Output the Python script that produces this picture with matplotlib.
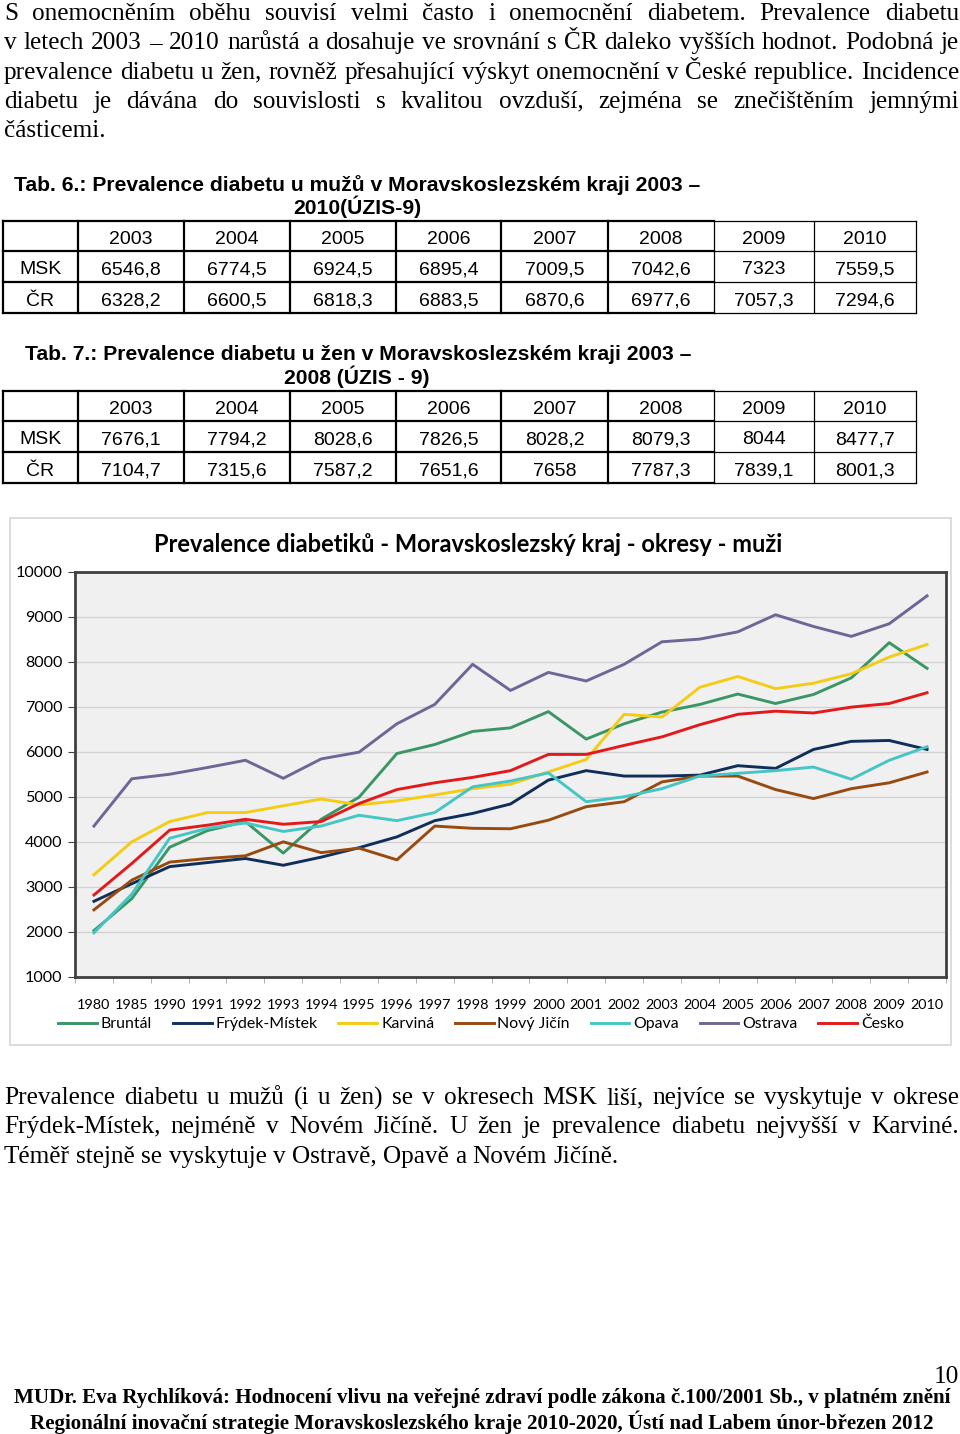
import numpy as np
import matplotlib
matplotlib.use("Agg")
from matplotlib import pyplot as plt
from matplotlib.patches import Rectangle

plt.rcParams['font.family'] = ['Lato', 'DejaVu Sans']

# chart data
years = ["1980", "1985", "1990", "1991", "1992", "1993", "1994", "1995", "1996", "1997", "1998",
         "1999", "2000", "2001", "2002", "2003", "2004", "2005", "2006", "2007", "2008", "2009", "2010"]
bruntal = [2030, 2740, 3880, 4250, 4450, 3750, 4500, 4990, 5960, 6160, 6450, 6530, 6890, 6280, 6620,
           6880, 7050, 7280, 7070, 7270, 7640, 8420, 7850]
frydek = [2680, 3070, 3450, 3540, 3630, 3480, 3660, 3870, 4110, 4470, 4630, 4840, 5370, 5580, 5460,
          5460, 5480, 5690, 5630, 6050, 6230, 6250, 6050]
karvina = [3270, 4000, 4450, 4650, 4650, 4800, 4950, 4820, 4910, 5040, 5180, 5280, 5550, 5830, 6830,
           6770, 7430, 7670, 7400, 7520, 7730, 8100, 8380]
novy_jicin = [2490, 3150, 3550, 3630, 3690, 4000, 3760, 3860, 3600, 4350, 4300, 4290, 4480, 4780, 4890,
              5330, 5460, 5460, 5160, 4960, 5180, 5310, 5550]
opava = [1980, 2840, 4080, 4300, 4420, 4230, 4350, 4590, 4470, 4650, 5220, 5350, 5530, 4890, 5000,
         5180, 5460, 5520, 5580, 5660, 5390, 5810, 6110]
ostrava = [4350, 5400, 5500, 5650, 5810, 5410, 5840, 5990, 6620, 7050, 7940, 7360, 7760, 7570, 7940,
           8440, 8500, 8660, 9040, 8780, 8560, 8840, 9460]
cesko = [2820, 3520, 4260, 4370, 4500, 4390, 4450, 4850, 5160, 5310, 5430, 5580, 5940, 5940, 6140,
         6330, 6600, 6830, 6900, 6860, 6990, 7070, 7310]
series_names = ["Bruntál", "Frýdek-Místek", "Karviná", "Nový Jičín", "Opava", "Ostrava", "Česko"]
series_colors = ["#3a9664", "#0f2f5a", "#f4cc16", "#984a10", "#46c5c5", "#6b6898", "#e31a1c"]

# tables
table_years = ["2003", "2004", "2005", "2006", "2007", "2008", "2009", "2010"]
men_msk = ["6546,8", "6774,5", "6924,5", "6895,4", "7009,5", "7042,6", "7323", "7559,5"]
men_cr = ["6328,2", "6600,5", "6818,3", "6883,5", "6870,6", "6977,6", "7057,3", "7294,6"]
women_msk = ["7676,1", "7794,2", "8028,6", "7826,5", "8028,2", "8079,3", "8044", "8477,7"]
women_cr = ["7104,7", "7315,6", "7587,2", "7651,6", "7658", "7787,3", "7839,1", "8001,3"]

para_top = ["S onemocněním oběhu souvisí velmi často i onemocnění diabetem. Prevalence diabetu",
            "v letech 2003 – 2010 narůstá a dosahuje ve srovnání s ČR daleko vyšších hodnot. Podobná je",
            "prevalence diabetu u žen, rovněž přesahující výskyt onemocnění v České republice. Incidence",
            "diabetu je dávána do souvislosti s kvalitou ovzduší, zejména se znečištěním jemnými",
            "částicemi."]
para_bottom = ["Prevalence diabetu u mužů (i u žen) se v okresech MSK liší, nejvíce se vyskytuje v okrese",
               "Frýdek-Místek, nejméně v Novém Jičíně. U žen je prevalence diabetu nejvyšší v Karviné.",
               "Téměř stejně se vyskytuje v Ostravě, Opavě a Novém Jičíně."]

fig = plt.figure(figsize=(9.6, 14.34), dpi=100)
page = fig.add_axes([0, 0, 1, 1])
page.set_xlim(0, 960)
page.set_ylim(1434, 0)
page.axis('off')
renderer = fig.canvas.get_renderer()


def text_width(t):
    return t.get_window_extent(renderer).width


def fit_size(s, width, **kw):
    t = page.text(0, 0, s, fontsize=10, **kw)
    w = text_width(t)
    t.remove()
    return 10 * width / w


def justify(lines, y0, size, step=29.3, x0=4, x1=959, **kw):
    for k, line in enumerate(lines):
        y = y0 + k * step
        words = line.split(' ')
        ts = [page.text(0, y, w, fontsize=size, ha='left', va='center', **kw) for w in words]
        ws = [text_width(t) for t in ts]
        if k < len(lines) - 1 and len(ws) > 1:
            gap = (x1 - x0 - sum(ws)) / (len(ws) - 1)
        else:
            gap = size * 0.25 * 100 / 72
        x = x0
        for t, w in zip(ts, ws):
            t.set_x(x)
            x += w + gap


serif = dict(family='Liberation Serif')
body_size = fit_size(para_bottom[-1], 616, **serif)
justify(para_top, 14, body_size, **serif)
justify(para_bottom, 1098, body_size, **serif)

# table titles
sans_b = dict(family='Liberation Sans', fontweight='bold')
title6 = "Tab. 6.: Prevalence diabetu u mužů v Moravskoslezském kraji 2003 –"
title7 = "Tab. 7.: Prevalence diabetu u žen v Moravskoslezském kraji 2003 –"
tab_size = fit_size(title6, 688, **sans_b)
page.text(14, 185, title6, fontsize=tab_size, ha='left', va='center', **sans_b)
page.text(357, 207, "2010(ÚZIS-9)", fontsize=tab_size, ha='center', va='center', **sans_b)
page.text(25, 354, title7, fontsize=tab_size, ha='left', va='center', **sans_b)
page.text(357, 377, "2008 (ÚZIS - 9)", fontsize=tab_size, ha='center', va='center', **sans_b)

col_x = [3, 78, 184, 290, 396, 501, 608, 714, 814, 916]


def draw_table(top, msk, cr):
    ys = [top, top + 30, top + 61, top + 92]
    for y in ys:
        page.plot([col_x[0], col_x[7]], [y, y], color='black', lw=1.6, solid_capstyle='projecting')
        page.plot([col_x[7], col_x[-1]], [y, y], color='black', lw=0.9)
    for x in col_x:
        page.plot([x, x], [ys[0], ys[-1]], color='black', lw=1.6 if x < 714 else 0.9)
    rows = [[""] + table_years, ["MSK"] + msk, ["ČR"] + cr]
    for r, row in enumerate(rows):
        yc = (ys[r] + ys[r + 1]) / 2 + 3.5
        for c, s in enumerate(row):
            xc = (col_x[c] + col_x[c + 1]) / 2
            page.text(xc, yc, s, ha='center', va='center', fontsize=14, family='Liberation Sans')


draw_table(221, men_msk, men_cr)
draw_table(391, women_msk, women_cr)

# chart frame and title
page.add_patch(Rectangle((10, 518), 941, 527, fill=False, ec='#d6d6d6', lw=1.2))
chart_title = "Prevalence diabetiků - Moravskoslezský kraj - okresy - muži"
page.text(154, 545, chart_title, fontsize=fit_size(chart_title, 631, fontweight='bold'),
          fontweight='bold', ha='left', va='center')

ax = fig.add_axes([75 / 960, 1 - 977 / 1434, 871 / 960, 405.5 / 1434])
ax.set_facecolor('#f0f0f0')
xs = np.arange(len(years))
series = [bruntal, frydek, karvina, novy_jicin, opava, ostrava, cesko]
for name, vals, col in zip(series_names, series, series_colors):
    ax.plot(xs, vals, color=col, lw=2.1, label=name)
ax.set_xlim(-0.5, len(years) - 0.5)
ax.set_ylim(1000, 10000)
ax.set_yticks(range(1000, 10001, 1000))
ax.yaxis.grid(True, color='#d2d2d2', lw=1)
ax.set_axisbelow(True)
ax.set_xticks(xs)
ax.set_xticklabels(years)
ax.set_xticks(np.arange(-0.5, len(years)), minor=True)
ax.tick_params(axis='x', which='major', length=0, pad=16, labelsize=10.4)
ax.tick_params(axis='x', which='minor', length=4, color='#a0a0a0')
ax.tick_params(axis='y', length=5, color='#404040', pad=4, labelsize=11.6)
for sp in ax.spines.values():
    sp.set_color('#404040')
    sp.set_linewidth(2)

fig.legend(loc='center', bbox_to_anchor=(481 / 960, 1 - 1024 / 1434), ncol=7, frameon=False,
           fontsize=11.4, handlelength=2.45, handletextpad=0.25, columnspacing=1.3)

# page number and footer
page.text(959, 1377, "10", fontsize=body_size, ha='right', va='center', **serif)
foot1 = "MUDr. Eva Rychlíková: Hodnocení vlivu na veřejné zdraví podle zákona č.100/2001 Sb., v platném znění"
foot2 = "Regionální inovační strategie Moravskoslezského kraje 2010-2020, Ústí nad Labem únor-březen 2012"
serif_b = dict(family='Liberation Serif', fontweight='bold')
page.text(482, 1398, foot1, fontsize=fit_size(foot1, 945, **serif_b), ha='center', va='center', **serif_b)
page.text(482, 1422, foot2, fontsize=fit_size(foot2, 910, **serif_b), ha='center', va='center', **serif_b)

fig.savefig('out.png', dpi=100)
